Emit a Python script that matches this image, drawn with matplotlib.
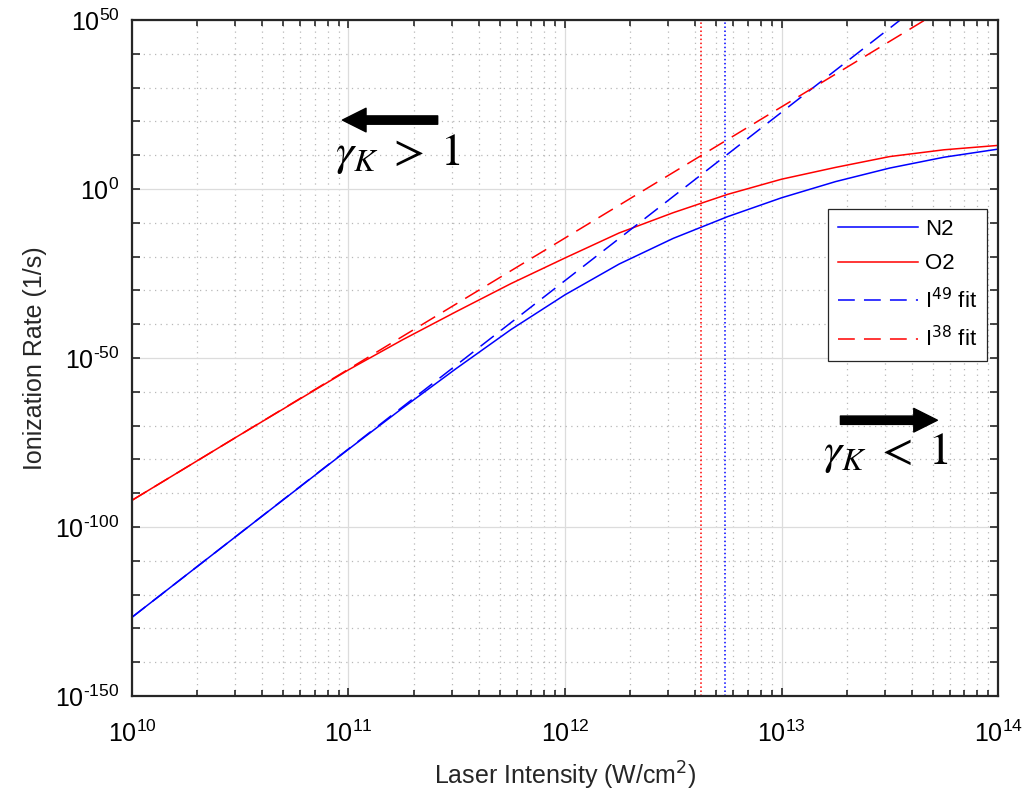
import numpy as np
import matplotlib.pyplot as plt
from matplotlib.ticker import FixedLocator, NullFormatter, LogLocator, FuncFormatter

plt.rcParams['font.family'] = ['Liberation Sans', 'DejaVu Sans']
plt.rcParams['axes.unicode_minus'] = False

# log10 intensity (W/cm^2) and log10 rate (1/s)
n2_logI = [10.0, 10.5, 11.0, 11.25, 11.5, 11.75, 12.0, 12.25, 12.5, 12.75, 13.0, 13.25, 13.5, 13.75, 14.0]
n2_logW = [-126.7, -101.8, -77.0, -64.8, -53.0, -41.6, -31.3, -22.2, -14.6, -8.2, -2.6, 2.2, 6.2, 9.4, 11.8]

o2_logI = [10.0, 10.5, 11.0, 11.25, 11.5, 11.75, 12.0, 12.25, 12.5, 12.75, 13.0, 13.25, 13.5, 13.75, 14.0]
o2_logW = [-92.1, -72.7, -53.5, -44.6, -36.2, -28.0, -20.4, -13.0, -7.0, -1.6, 2.9, 6.4, 9.6, 11.6, 12.9]

# power-law fits (straight lines in log-log)
fit_logI = [10.0, 14.0]
n2_fit_logW = [-126.7, 72.5]
o2_fit_logW = [-92.1, 63.1]

# Keldysh gamma = 1 intensities
I_gamma1_o2 = 4.23e12
I_gamma1_n2 = 5.49e12

fig = plt.figure(figsize=(10.27, 7.97), dpi=100)
ax = fig.add_axes([0.1285, 0.1267, 0.8433, 0.8482])

I = lambda v: 10.0 ** np.array(v)
ax.loglog(I(n2_logI), I(n2_logW), color='blue', lw=1.1, label='N2')
ax.loglog(I(o2_logI), I(o2_logW), color='red', lw=1.1, label='O2')
ax.loglog(I(fit_logI), I(n2_fit_logW), color='blue', lw=1.1, dashes=(11, 6), label='I$^{49}$ fit')
ax.loglog(I(fit_logI), I(o2_fit_logW), color='red', lw=1.1, dashes=(11, 6), label='I$^{38}$ fit')
ax.axvline(I_gamma1_o2, color='red', ls=':', lw=1.1)
ax.axvline(I_gamma1_n2, color='blue', ls=':', lw=1.1)

ax.set_xlim(1e10, 1e14)
ax.set_ylim(1e-150, 1e50)


def pow10(v, pos):
    e = int(round(np.log10(v)))
    return r'$\mathdefault{10^{%s}}$' % str(e).replace('-', '\u2010')


ax.xaxis.set_major_locator(LogLocator(base=10, numticks=10))
ax.xaxis.set_minor_locator(LogLocator(base=10, subs=np.arange(2, 10), numticks=10))
ax.xaxis.set_major_formatter(FuncFormatter(pow10))
ax.xaxis.set_minor_formatter(NullFormatter())
ax.yaxis.set_major_locator(FixedLocator(10.0 ** np.arange(-150, 51, 50)))
ax.yaxis.set_minor_locator(FixedLocator([10.0 ** k for k in range(-150, 51, 10) if k % 50]))
ax.yaxis.set_major_formatter(FuncFormatter(pow10))
ax.yaxis.set_minor_formatter(NullFormatter())

ax.grid(which='major', color='#dcdcdc', lw=0.9, ls='-')
ax.grid(which='minor', color='#b8b8b8', lw=0.9, ls=(0, (1, 3.5)))
ax.set_axisbelow(True)

for s in ax.spines.values():
    s.set_linewidth(1.6)
    s.set_color('#262626')
ax.tick_params(which='both', direction='in', top=True, right=True, color='#262626', width=1.2)
ax.tick_params(which='major', length=6, labelsize=18)
ax.tick_params(which='minor', length=4)
ax.tick_params(axis='y', which='minor', length=6)
ax.tick_params(axis='x', pad=18)
ax.tick_params(axis='y', pad=9)

ax.set_xlabel('Laser Intensity (W/cm$^2$)', fontsize=18, color='#262626', labelpad=9)
ax.set_ylabel('Ionization Rate (1/s)', fontsize=18, color='#262626', labelpad=6)

leg = ax.legend(loc='upper right', bbox_to_anchor=(0.9873, 0.7204), borderaxespad=0,
                fontsize=16, handlelength=3.6, handletextpad=0.3, labelspacing=0.6,
                borderpad=0.45, fancybox=False, framealpha=1)
leg.get_frame().set_edgecolor('#262626')
leg.get_frame().set_linewidth(0.9)

ax.annotate('', xy=(0.243, 0.852), xytext=(0.353, 0.852), xycoords='axes fraction',
            arrowprops=dict(facecolor='black', edgecolor='black', width=6, headwidth=17, headlength=17))
ax.annotate('', xy=(0.930, 0.408), xytext=(0.818, 0.408), xycoords='axes fraction',
            arrowprops=dict(facecolor='black', edgecolor='black', width=6, headwidth=17, headlength=17))
ax.text(0.307, 0.7855, r'$\gamma_K \;>\; 1$', transform=ax.transAxes, fontsize=33,
        ha='center', va='baseline', math_fontfamily='stix')
ax.text(0.8707, 0.343, r'$\gamma_K \;<\; 1$', transform=ax.transAxes, fontsize=33,
        ha='center', va='baseline', math_fontfamily='stix')

fig.savefig('out.png', dpi=100)
